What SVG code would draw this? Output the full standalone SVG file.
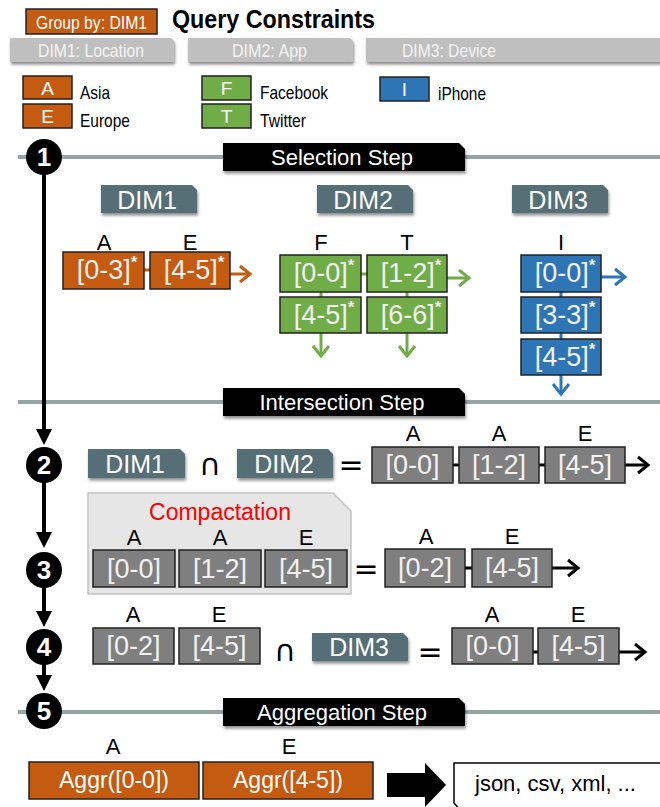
<svg xmlns="http://www.w3.org/2000/svg" width="660" height="807" viewBox="0 0 660 807">
  <defs>
    <filter id="shadow" x="-10%" y="-20%" width="130%" height="160%">
      <feDropShadow dx="1" dy="2.5" stdDeviation="1.6" flood-color="#000" flood-opacity="0.45"/>
    </filter>
    <marker id="headBlack" viewBox="0 0 10 10" refX="5" refY="5" markerWidth="4" markerHeight="4" orient="auto">
      <path d="M0,0 L10,5 L0,10 Z" fill="#000"/>
    </marker>
  </defs>
  <style>
    text { font-family: "Liberation Sans", Arial, sans-serif; }
    .title { font-size: 25px; font-weight: bold; fill: #000; }
    .hdr { fill: #bfbfbf; filter: url(#shadow); }
    .hdrTxt { font-size: 19px; fill: #f4f4f4; text-anchor: middle; }
    .legTxt { font-size: 19px; fill: #000; }
    .legKey { font-size: 19px; fill: #fff; text-anchor: middle; }
    .orange { fill: #c55a11; stroke: #222; stroke-width: 1.5; }
    .green { fill: #70ad47; stroke: #222; stroke-width: 1.5; }
    .blue { fill: #2e75b6; stroke: #222; stroke-width: 1.5; }
    .grey { fill: #7f7f7f; stroke: #222; stroke-width: 1.5; }
    .cell { font-size: 27px; fill: #f2f2f2; text-anchor: middle; }
    .star { font-size: 17px; font-weight: bold; }
    .lbl { font-size: 22px; fill: #000; text-anchor: middle; }
    .tag { fill: #566e75; filter: url(#shadow); }
    .tagTxt { font-size: 25px; fill: #fff; text-anchor: middle; }
    .stepBar { fill: #000; filter: url(#shadow); }
    .stepTxt { font-size: 22px; fill: #fff; text-anchor: middle; }
    .stepLine { stroke: #95a5a6; stroke-width: 4; }
    .num { font-size: 26px; fill: #fff; text-anchor: middle; font-weight: bold; }
    .op { font-size: 30px; fill: #000; text-anchor: middle; font-family: "DejaVu Sans", "Liberation Sans", sans-serif; }
    .arrO { fill: none; stroke: #c55a11; stroke-width: 3; }
    .arrG { fill: none; stroke: #70ad47; stroke-width: 3; }
    .arrB { fill: none; stroke: #2e75b6; stroke-width: 3; }
    .arrK { fill: none; stroke: #000; stroke-width: 3; }
    .flow { stroke: #000; stroke-width: 4; marker-end: url(#headBlack); }
    .aggTxt { font-size: 23px; fill: #fff; text-anchor: middle; }
  </style>

  <!-- query constraints header -->
  <g id="groupBy">
    <rect x="26" y="9" width="131" height="25" class="orange"/>
    <text x="91.5" y="28.5" font-size="19" fill="#fff" text-anchor="middle" textLength="111" lengthAdjust="spacingAndGlyphs">Group by: DIM1</text>
  </g>
  <text x="172" y="28" class="title" textLength="203" lengthAdjust="spacingAndGlyphs">Query Constraints</text>

  <g id="hdr-dim1">
    <path d="M10,38 H171 L174,41 V62 H10 Z" class="hdr"/>
    <text x="91" y="57" class="hdrTxt" textLength="106" lengthAdjust="spacingAndGlyphs">DIM1: Location</text>
  </g>
  <g id="hdr-dim2">
    <path d="M188,38 H350 L353,41 V62 H188 Z" class="hdr"/>
    <text x="269.5" y="57" class="hdrTxt" textLength="75" lengthAdjust="spacingAndGlyphs">DIM2: App</text>
  </g>
  <g id="hdr-dim3">
    <path d="M366,38 H664 V62 H366 Z" class="hdr"/>
    <text x="449" y="57" class="hdrTxt" textLength="94" lengthAdjust="spacingAndGlyphs">DIM3: Device</text>
  </g>

  <!-- legend -->
  <g id="leg-A">
    <rect x="23" y="76" width="49" height="23" class="orange"/>
    <text x="47.5" y="94.5" class="legKey">A</text>
    <text x="80" y="99" class="legTxt" textLength="30" lengthAdjust="spacingAndGlyphs">Asia</text>
  </g>
  <g id="leg-E">
    <rect x="23" y="104" width="49" height="24" class="orange"/>
    <text x="47.5" y="122.5" class="legKey">E</text>
    <text x="80" y="127" class="legTxt" textLength="50" lengthAdjust="spacingAndGlyphs">Europe</text>
  </g>
  <g id="leg-F">
    <rect x="202" y="76" width="49" height="24" class="green"/>
    <text x="226.5" y="94.5" class="legKey">F</text>
    <text x="260" y="99" class="legTxt" textLength="68" lengthAdjust="spacingAndGlyphs">Facebook</text>
  </g>
  <g id="leg-T">
    <rect x="202" y="104" width="49" height="24" class="green"/>
    <text x="226.5" y="122.5" class="legKey">T</text>
    <text x="260" y="127" class="legTxt" textLength="46" lengthAdjust="spacingAndGlyphs">Twitter</text>
  </g>
  <g id="leg-I">
    <rect x="380" y="77" width="49" height="24" class="blue"/>
    <text x="404.5" y="95.5" class="legKey">I</text>
    <text x="438" y="100" class="legTxt" textLength="48" lengthAdjust="spacingAndGlyphs">iPhone</text>
  </g>

  <!-- step separators and all arrows -->
  <g id="connectors">
    <line x1="18" y1="157" x2="660" y2="157" class="stepLine"/>
    <line x1="18" y1="402" x2="660" y2="402" class="stepLine"/>
    <line x1="18" y1="712" x2="660" y2="712" class="stepLine"/>

    <!-- process flow down the left side -->
    <line x1="44" y1="170" x2="44" y2="437" class="flow"/>
    <line x1="44" y1="478" x2="44" y2="540" class="flow"/>
    <line x1="44" y1="584" x2="44" y2="619" class="flow"/>
    <line x1="44" y1="660" x2="44" y2="683" class="flow"/>

    <!-- selection: DIM1 list -->
    <line x1="144" y1="270" x2="150" y2="270" stroke="#c55a11" stroke-width="3"/>
    <line x1="230" y1="274" x2="249" y2="274" class="arrO"/>
    <polyline points="240,266 250,274 240,282" class="arrO"/>

    <!-- selection: DIM2 grid -->
    <line x1="361" y1="274" x2="367" y2="274" stroke="#70ad47" stroke-width="3"/>
    <line x1="321" y1="292" x2="321" y2="297" stroke="#70ad47" stroke-width="3"/>
    <line x1="407" y1="292" x2="407" y2="297" stroke="#70ad47" stroke-width="3"/>
    <line x1="447" y1="278" x2="468" y2="278" class="arrG"/>
    <polyline points="459,270 469,278 459,286" class="arrG"/>
    <line x1="321" y1="333" x2="321" y2="356" class="arrG"/>
    <polyline points="313,346 321,356 329,346" class="arrG"/>
    <line x1="407" y1="333" x2="407" y2="356" class="arrG"/>
    <polyline points="399,346 407,356 415,346" class="arrG"/>

    <!-- selection: DIM3 list -->
    <line x1="561" y1="292" x2="561" y2="297" stroke="#2e75b6" stroke-width="3"/>
    <line x1="561" y1="333" x2="561" y2="339" stroke="#2e75b6" stroke-width="3"/>
    <line x1="601" y1="277" x2="624" y2="277" class="arrB"/>
    <polyline points="615,269 625,277 615,285" class="arrB"/>
    <line x1="561" y1="375" x2="561" y2="393" class="arrB"/>
    <polyline points="553,384 561,394 569,384" class="arrB"/>

    <!-- intersection results -->
    <line x1="453" y1="465" x2="459" y2="465" class="arrK"/>
    <line x1="539" y1="465" x2="545" y2="465" class="arrK"/>
    <line x1="625" y1="465" x2="647" y2="465" class="arrK"/>
    <polyline points="638,457 648,465 638,473" class="arrK"/>

    <line x1="465" y1="568" x2="472" y2="568" class="arrK"/>
    <line x1="552" y1="568" x2="577" y2="568" class="arrK"/>
    <polyline points="568,560 578,568 568,576" class="arrK"/>

    <line x1="533" y1="652" x2="538" y2="652" class="arrK"/>
    <line x1="619" y1="652" x2="644" y2="652" class="arrK"/>
    <polyline points="635,644 645,652 635,660" class="arrK"/>

    <!-- aggregation output -->
    <polygon points="387,773 425,773 425,763 446,785 425,807 425,797 387,797" fill="#000"/>
  </g>

  <!-- step markers -->
  <g id="step1">
    <circle cx="44" cy="157" r="18" fill="#000"/>
    <text x="44" y="166" class="num">1</text>
  </g>
  <g id="step2">
    <circle cx="44" cy="465" r="18" fill="#000"/>
    <text x="44" y="474" class="num">2</text>
  </g>
  <g id="step3">
    <circle cx="44" cy="570" r="18" fill="#000"/>
    <text x="44" y="579" class="num">3</text>
  </g>
  <g id="step4">
    <circle cx="44" cy="647" r="18" fill="#000"/>
    <text x="44" y="656" class="num">4</text>
  </g>
  <g id="step5">
    <circle cx="44" cy="711" r="18" fill="#000"/>
    <text x="44" y="720" class="num">5</text>
  </g>

  <g id="selection-label">
    <path d="M223,143 H459 L465,149 V171 H223 Z" class="stepBar"/>
    <text x="342" y="165" class="stepTxt">Selection Step</text>
  </g>
  <g id="intersection-label">
    <path d="M223,388 H459 L465,394 V416 H223 Z" class="stepBar"/>
    <text x="342" y="410" class="stepTxt">Intersection Step</text>
  </g>
  <g id="aggregation-label">
    <path d="M223,698 H459 L465,704 V726 H223 Z" class="stepBar"/>
    <text x="342" y="720" class="stepTxt">Aggregation Step</text>
  </g>

  <!-- selection step -->
  <g id="tag-dim1">
    <path d="M101,185 H192 L197,190 V213 H101 Z" class="tag"/>
    <text x="147" y="209" class="tagTxt">DIM1</text>
  </g>
  <g id="tag-dim2">
    <path d="M317,185 H408 L413,190 V213 H317 Z" class="tag"/>
    <text x="363" y="209" class="tagTxt">DIM2</text>
  </g>
  <g id="tag-dim3">
    <path d="M512,185 H603 L608,190 V213 H512 Z" class="tag"/>
    <text x="558" y="209" class="tagTxt">DIM3</text>
  </g>

  <g id="sel-A">
    <text x="104" y="250" class="lbl">A</text>
    <rect x="63" y="252" width="81" height="37" class="orange"/>
    <text x="107" y="279" class="cell">[0-3]<tspan dy="-11" class="star">*</tspan></text>
  </g>
  <g id="sel-E">
    <text x="190" y="250" class="lbl">E</text>
    <rect x="150" y="252" width="80" height="37" class="orange"/>
    <text x="194" y="279" class="cell">[4-5]<tspan dy="-11" class="star">*</tspan></text>
  </g>

  <g id="sel-F1">
    <text x="321" y="250" class="lbl">F</text>
    <rect x="280" y="255" width="81" height="37" class="green"/>
    <text x="324" y="282" class="cell">[0-0]<tspan dy="-11" class="star">*</tspan></text>
  </g>
  <g id="sel-T1">
    <text x="407" y="250" class="lbl">T</text>
    <rect x="367" y="255" width="80" height="37" class="green"/>
    <text x="411" y="282" class="cell">[1-2]<tspan dy="-11" class="star">*</tspan></text>
  </g>
  <g id="sel-F2">
    <rect x="280" y="297" width="81" height="36" class="green"/>
    <text x="324" y="324" class="cell">[4-5]<tspan dy="-11" class="star">*</tspan></text>
  </g>
  <g id="sel-T2">
    <rect x="367" y="297" width="80" height="36" class="green"/>
    <text x="411" y="324" class="cell">[6-6]<tspan dy="-11" class="star">*</tspan></text>
  </g>

  <g id="sel-I1">
    <text x="561" y="250" class="lbl">I</text>
    <rect x="521" y="255" width="80" height="37" class="blue"/>
    <text x="565" y="282" class="cell">[0-0]<tspan dy="-11" class="star">*</tspan></text>
  </g>
  <g id="sel-I2">
    <rect x="521" y="297" width="80" height="36" class="blue"/>
    <text x="565" y="324" class="cell">[3-3]<tspan dy="-11" class="star">*</tspan></text>
  </g>
  <g id="sel-I3">
    <rect x="521" y="339" width="80" height="36" class="blue"/>
    <text x="565" y="366" class="cell">[4-5]<tspan dy="-11" class="star">*</tspan></text>
  </g>

  <!-- intersection step: DIM1 ∩ DIM2 -->
  <g id="int-dim1">
    <path d="M88,449 H180 L185,454 V478 H88 Z" class="tag"/>
    <text x="135" y="473" class="tagTxt">DIM1</text>
  </g>
  <text x="210" y="475" class="op">∩</text>
  <g id="int-dim2">
    <path d="M237,449 H328 L333,454 V478 H237 Z" class="tag"/>
    <text x="284" y="473" class="tagTxt">DIM2</text>
  </g>
  <text x="351" y="475" class="op">=</text>
  <g id="r2-a1">
    <text x="413" y="441" class="lbl">A</text>
    <rect x="372" y="447" width="81" height="36" class="grey"/>
    <text x="412.5" y="474" class="cell">[0-0]</text>
  </g>
  <g id="r2-a2">
    <text x="499" y="441" class="lbl">A</text>
    <rect x="459" y="447" width="80" height="36" class="grey"/>
    <text x="499" y="474" class="cell">[1-2]</text>
  </g>
  <g id="r2-e">
    <text x="585" y="441" class="lbl">E</text>
    <rect x="545" y="447" width="80" height="36" class="grey"/>
    <text x="585" y="474" class="cell">[4-5]</text>
  </g>

  <!-- compactation -->
  <g id="compactation">
    <path d="M88,493 H333 L351,511 V594 H88 Z" fill="#e6e6e6" stroke="#c2c2c2" stroke-width="1.5"/>
    <text x="220" y="520" font-size="23" fill="#ff0000" text-anchor="middle">Compactation</text>
    <text x="134" y="545" class="lbl">A</text>
    <rect x="93" y="550" width="82" height="37" class="grey"/>
    <text x="134" y="578" class="cell">[0-0]</text>
    <text x="220" y="545" class="lbl">A</text>
    <rect x="179" y="550" width="82" height="37" class="grey"/>
    <text x="220" y="578" class="cell">[1-2]</text>
    <text x="306" y="545" class="lbl">E</text>
    <rect x="265" y="550" width="82" height="37" class="grey"/>
    <text x="306" y="578" class="cell">[4-5]</text>
  </g>
  <text x="366" y="579" class="op">=</text>
  <g id="r3-a">
    <text x="426" y="544" class="lbl">A</text>
    <rect x="385" y="549" width="80" height="38" class="grey"/>
    <text x="425" y="577" class="cell">[0-2]</text>
  </g>
  <g id="r3-e">
    <text x="512" y="544" class="lbl">E</text>
    <rect x="472" y="549" width="80" height="38" class="grey"/>
    <text x="512" y="577" class="cell">[4-5]</text>
  </g>

  <!-- step 4: compacted ∩ DIM3 -->
  <g id="r4-a">
    <text x="133" y="622" class="lbl">A</text>
    <rect x="93" y="628" width="81" height="36" class="grey"/>
    <text x="133.5" y="655" class="cell">[0-2]</text>
  </g>
  <g id="r4-e">
    <text x="219" y="622" class="lbl">E</text>
    <rect x="179" y="628" width="81" height="36" class="grey"/>
    <text x="219.5" y="655" class="cell">[4-5]</text>
  </g>
  <text x="285" y="661" class="op">∩</text>
  <g id="int-dim3">
    <path d="M312,633 H403 L408,638 V661 H312 Z" class="tag"/>
    <text x="359" y="656" class="tagTxt">DIM3</text>
  </g>
  <text x="430" y="662" class="op">=</text>
  <g id="r4-res-a">
    <text x="492" y="622" class="lbl">A</text>
    <rect x="452" y="628" width="81" height="36" class="grey"/>
    <text x="492.5" y="655" class="cell">[0-0]</text>
  </g>
  <g id="r4-res-e">
    <text x="578" y="622" class="lbl">E</text>
    <rect x="538" y="628" width="81" height="36" class="grey"/>
    <text x="578.5" y="655" class="cell">[4-5]</text>
  </g>

  <!-- aggregation step -->
  <g id="agg-a">
    <text x="113" y="754" class="lbl">A</text>
    <rect x="29" y="762" width="170" height="37" class="orange"/>
    <text x="114" y="788" class="aggTxt">Aggr([0-0])</text>
  </g>
  <g id="agg-e">
    <text x="289" y="754" class="lbl">E</text>
    <rect x="203" y="762" width="170" height="37" class="orange"/>
    <text x="288" y="788" class="aggTxt">Aggr([4-5])</text>
  </g>
  <g id="output">
    <path d="M454,763 H665 V812 H462 L454,803 Z" fill="#fff" stroke="#000" stroke-width="1.5"/>
    <text x="475" y="791" font-size="22" fill="#000">json, csv, xml, ...</text>
  </g>
</svg>
